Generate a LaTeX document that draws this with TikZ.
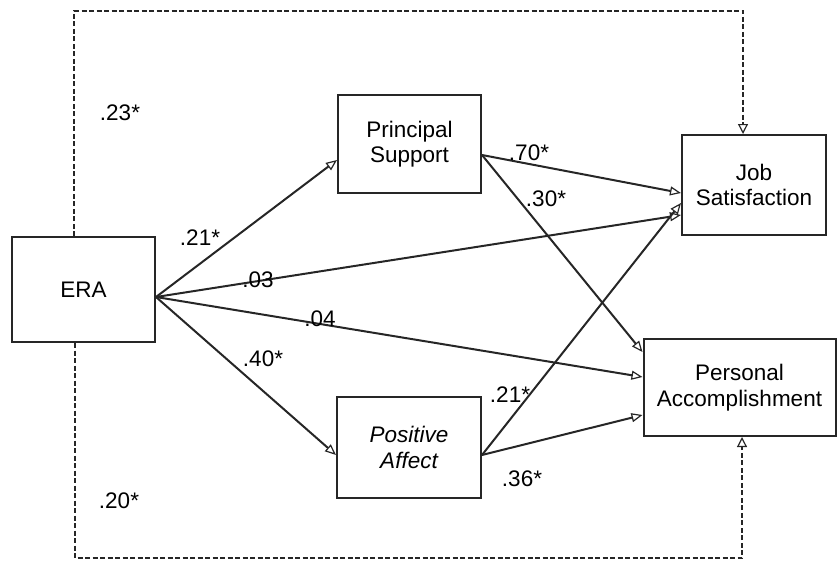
\documentclass[tikz,border=0pt]{standalone}
\usepackage{fontspec}
\setmainfont{Liberation Sans}
\usetikzlibrary{arrows.meta}
\begin{document}
\begin{tikzpicture}[x=1pt,y=-1pt,
  box/.style={draw=black!85,line width=2pt,rectangle,inner sep=0pt,align=center,
    font=\fontsize{22.5}{25.5}\selectfont},
  path/.style={draw=black!85,line width=2pt,-{Triangle[open,length=11pt,width=9pt,line width=1.2pt]}},
  dpath/.style={draw=black!85,line width=1.6pt,dash pattern=on 5pt off 2.5pt,-{Triangle[open,length=10pt,width=10pt,line width=1.2pt,sharp]}},
  lab/.style={font=\fontsize{22.5}{25}\selectfont,inner sep=0pt}]
\useasboundingbox (0,0) rectangle (837,562);
\node[box,minimum width=143pt,minimum height=105pt] (era) at (83.5,289.5) {ERA};
\node[box,minimum width=143pt,minimum height=98pt] (ps) at (409.5,144) {Principal\\Support};
\node[box,minimum width=144pt,minimum height=100pt] (job) at (754,185) {Job\\Satisfaction};
\node[box,minimum width=144pt,minimum height=101pt] (pos) at (409,447.5) {\itshape Positive\\\itshape Affect};
\node[box,minimum width=192pt,minimum height=97pt] (pa) at (739.5,387.5) {Personal\\Accomplishment};
% dashed paths
\coordinate (ytop) at (0,11);
\coordinate (ybot) at (0,558);
\coordinate (eraT) at ([xshift=-9.5pt]era.north);
\coordinate (eraB) at ([xshift=-8.5pt]era.south);
\coordinate (jobT) at ([xshift=-11pt]job.north);
\coordinate (paB) at ([xshift=2.5pt]pa.south);
\draw[dpath] (eraT) -- (eraT |- ytop) -| (jobT);
\draw[dpath] (eraB) -- (eraB |- ybot) -| (paB);
% solid paths
\coordinate (eraO) at ([yshift=-7.5pt]era.east);
\coordinate (psO) at ([yshift=-11pt]ps.east);
\coordinate (posO) at ([yshift=-7.5pt]pos.east);
\draw[path] (eraO) -- ([yshift=-16pt]ps.west);
\draw[path] (eraO) -- ([yshift=-30pt]job.west);
\draw[path] (eraO) -- ([yshift=10.5pt]pa.west);
\draw[path] (eraO) -- ([yshift=-7.5pt]pos.west);
\draw[path] (psO) -- ([yshift=-8pt]job.west);
\draw[path] (psO) -- ([yshift=35.5pt]pa.west);
\draw[path] (posO) -- ([yshift=-18pt]job.west);
\draw[path] (posO) -- ([yshift=-27.5pt]pa.west);
% labels
\node[lab] (l1) at (120,113) {.23*};
\node[lab] (l2) at (200,238) {.21*};
\node[lab] (l3) at (258,280) {.03};
\node[lab] (l4) at (320,319) {.04};
\node[lab] (l5) at (263,359) {.40*};
\node[lab] (l6) at (119,501) {.20*};
\node[lab] (l7) at (529,153) {.70*};
\node[lab] (l8) at (546,199) {.30*};
\node[lab] (l9) at (510,395) {.21*};
\node[lab] (l10) at (522,479) {.36*};
\end{tikzpicture}
\end{document}
